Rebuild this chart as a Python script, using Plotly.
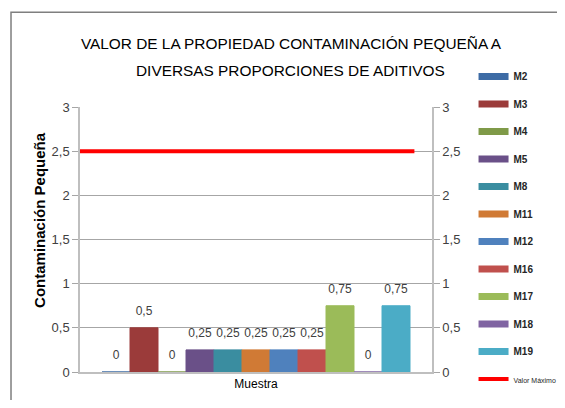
import plotly.graph_objects as go

# datos
categoria = ["Muestra"]
muestras = ["M2", "M3", "M4", "M5", "M8", "M11", "M12", "M16", "M17", "M18", "M19"]
valores = [0, 0.5, 0, 0.25, 0.25, 0.25, 0.25, 0.25, 0.75, 0, 0.75]
colores = ["#3D6BA5", "#9B3B3A", "#7F9A48", "#6A5088", "#3A8DA0", "#D07A35",
           "#4F81BD", "#C0504D", "#9BBB59", "#8064A2", "#4BACC6"]
valor_maximo = 2.5
linea_x = [0, 0.95]
ticks_y = [0, 0.5, 1, 1.5, 2, 2.5, 3]
titulo = ["VALOR DE LA PROPIEDAD CONTAMINACIÓN PEQUEÑA A",
          "DIVERSAS PROPORCIONES DE ADITIVOS"]

fuente = "Liberation Sans, sans-serif"

fig = go.Figure()
for i, m in enumerate(muestras):
    fig.add_trace(go.Bar(
        x=categoria, y=[valores[i]], name=m, showlegend=False,
        marker=dict(color=colores[i], line=dict(color=colores[i], width=1)),
    ))
for i, m in enumerate(muestras):
    # etiquetas de datos (agrupadas igual que las barras)
    fig.add_trace(go.Scatter(
        x=categoria, y=[valores[i]], mode="markers+text", showlegend=False,
        text=[str(valores[i]).replace(".", ",")], textposition="top center",
        textfont=dict(family=fuente, size=12, color="#404040"),
        marker=dict(size=14, opacity=0), cliponaxis=False, hoverinfo="skip",
    ))
for i, m in enumerate(muestras):
    # entrada de leyenda con rectangulo ancho (en el eje x2 para no agruparse)
    fig.add_trace(go.Scatter(
        x=[None], y=[None], name="<b>" + m + "</b>", legendgroup=m,
        mode="lines", line=dict(color=colores[i], width=7), hoverinfo="skip",
        xaxis="x2",
    ))

fig.add_trace(go.Scatter(
    x=linea_x, y=[valor_maximo, valor_maximo],
    name="<span style='font-size:7px'>Valor Máximo</span>",
    legendgroup="max", mode="lines", line=dict(color="#FF0000", width=4),
    xaxis="x2", yaxis="y",
))
# eje derecho
fig.add_trace(go.Scatter(x=[None], y=[None], xaxis="x2", yaxis="y2",
                         showlegend=False, hoverinfo="skip"))

fig.update_layout(
    width=549, height=392,
    margin=dict(l=72, r=125, t=99, b=28, autoexpand=False),
    paper_bgcolor="white", plot_bgcolor="white",
    separators=",.",
    barmode="group", bargap=0.125, bargroupgap=0,
    scattermode="group", scattergap=0.125,
    font=dict(family=fuente, color="#404040", size=12),
    title=dict(
        text=titulo[0],
        x=0.5155, xanchor="center", y=0.908, yanchor="middle",
        font=dict(family=fuente, size=15.4, color="black"),
    ),
    xaxis=dict(showline=True, linecolor="#BFBFBF", linewidth=1.5,
               tickfont=dict(size=12, color="black"), ticks=""),
    xaxis2=dict(overlaying="x", range=[0, 1], visible=False),
    yaxis=dict(range=[0, 3], tickvals=ticks_y, showgrid=True, gridcolor="#A6A6A6",
               showline=True, linecolor="#BFBFBF", linewidth=1.5,
               ticks="outside", ticklen=6, tickcolor="#A6A6A6", zeroline=False,
               tickfont=dict(size=13, color="#404040")),
    yaxis2=dict(range=[0, 3], tickvals=ticks_y, overlaying="y", side="right",
                showgrid=False, showline=True, linecolor="#BFBFBF", linewidth=1.5,
                ticks="outside", ticklen=6, tickcolor="#A6A6A6", zeroline=False,
                tickfont=dict(size=13, color="#404040")),
    legend=dict(x=1.118, xanchor="left", y=1.17, yanchor="top",
                traceorder="grouped", tracegroupgap=8.5, itemwidth=30,
                maxheight=400,
                font=dict(family=fuente, size=10, color="#262626"),
                bgcolor="rgba(0,0,0,0)"),
    annotations=[
        dict(text=titulo[1], xref="paper", yref="paper", x=0.599, y=1.136,
             xanchor="center", yanchor="middle", showarrow=False,
             font=dict(family=fuente, size=15.4, color="black")),
        dict(text="<b>Contaminación Pequeña</b>", xref="paper", yref="paper",
             x=-0.1136, y=0.574, textangle=-90, xanchor="center", yanchor="middle",
             showarrow=False, font=dict(family=fuente, size=15, color="black")),
    ],
    shapes=[dict(type="rect", xref="paper", yref="paper",
                 x0=-0.196, x1=1.5, y0=-0.2, y1=1.358,
                 line=dict(color="#7F7F7F", width=1.5))],
)

fig.write_html("out.html")
